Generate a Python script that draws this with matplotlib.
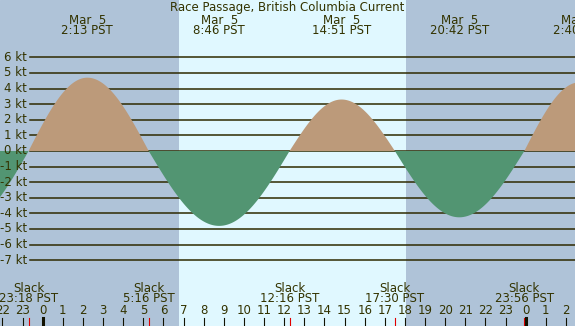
import numpy as np
import matplotlib
matplotlib.use("Agg")
import matplotlib.pyplot as plt

# Current events (hours from midnight Mar 5, PST) and speeds in knots
event_hours = [-3.9, -0.7, 2.217, 5.267, 8.767, 12.267, 14.85, 17.5, 20.7, 23.933, 26.667]
event_speeds = [-4.6, 0.0, 4.7, 0.0, -4.8, 0.0, 3.3, 0.0, -4.25, 0.0, 4.4]

max_labels = ["2:13 PST", "8:46 PST", "14:51 PST", "20:42 PST", "2:40 PST"]
max_hours = [2.217, 8.767, 14.85, 20.7, 26.667]
slack_labels = ["23:18 PST", "5:16 PST", "12:16 PST", "17:30 PST", "23:56 PST"]
slack_hours = [-0.7, 5.267, 12.267, 17.5, 23.933]
sunrise, sunset = 6.77, 18.05
kt_levels = list(range(6, -8, -1))

title = "Race Passage, British Columbia Current"

night_col = "#afc3d8"
day_col = "#e0f8ff"
flood_col = "#bc9a7a"
ebb_col = "#529572"
ink = "#333300"

# pixel geometry helpers (figure is 575x326)
W, H = 575, 326
x0_px, px_hr = 42.7, 20.125
y0_px, px_kt = 151.0, 15.6
xmin, xmax = (0 - x0_px) / px_hr, (W - x0_px) / px_hr
ymax, ymin = y0_px / px_kt, -(H - y0_px) / px_kt

def ky(py):
    return (y0_px - py) / px_kt

def hx(px):
    return (px - x0_px) / px_hr

fig = plt.figure(figsize=(W / 100, H / 100), dpi=100)
ax = fig.add_axes([0, 0, 1, 1])
ax.set_xlim(xmin, xmax)
ax.set_ylim(ymin, ymax)
ax.axis("off")
ax.add_patch(plt.Rectangle((xmin, ymin), xmax - xmin, ymax - ymin, color=night_col, zorder=0))
ax.axvspan(sunrise, sunset, color=day_col, zorder=0.5, lw=0)

# curve: sine shape between slack and max (steep at slack, flat at max)
t = np.linspace(xmin, xmax, 1500)
v = np.zeros_like(t)
for i in range(len(event_hours) - 1):
    a, b = event_hours[i], event_hours[i + 1]
    m = (t >= a) & (t <= b)
    f = (t[m] - a) / (b - a)
    va, vb = event_speeds[i], event_speeds[i + 1]
    if va == 0:
        v[m] = vb * np.sin(np.pi / 2 * f)
    else:
        v[m] = va * np.cos(np.pi / 2 * f)

# grid lines
for k in kt_levels:
    ax.plot([hx(30), xmax], [k, k], color="#2e2a00", lw=1.1, zorder=1)
    ax.text(hx(27), k, f"{k} kt", ha="right", va="center", fontsize=8.5, color=ink)

ax.fill_between(t, 0, v, where=v >= 0, color=flood_col, lw=0, zorder=2, interpolate=True)
ax.fill_between(t, 0, v, where=v <= 0, color=ebb_col, lw=0, zorder=2, interpolate=True)

ax.text(hx(287), ky(8), title, ha="center", va="center", fontsize=8.5, color=ink)
for h, lab in zip(max_hours, max_labels):
    ax.text(h, ky(20), "Mar  5", ha="center", va="center", fontsize=8.5, color=ink)
    ax.text(h, ky(31), lab, ha="center", va="center", fontsize=8.5, color=ink)
for h, lab in zip(slack_hours, slack_labels):
    ax.text(h, ky(288), "Slack", ha="center", va="center", fontsize=8.5, color=ink)
    ax.text(h, ky(299), lab, ha="center", va="center", fontsize=8.5, color=ink)
    ax.plot([h, h], [ky(318), ymin], color="#e00000", lw=0.8, zorder=3)

for h in range(-2, 27):
    ax.text(h, ky(311), str(h % 24), ha="center", va="center", fontsize=8.5, color=ink)
    lw = 2.2 if h % 24 == 0 else 0.8
    ax.plot([h, h], [ky(318), ymin], color="#111100", lw=lw, zorder=3)

fig.savefig("out.png", dpi=100)
